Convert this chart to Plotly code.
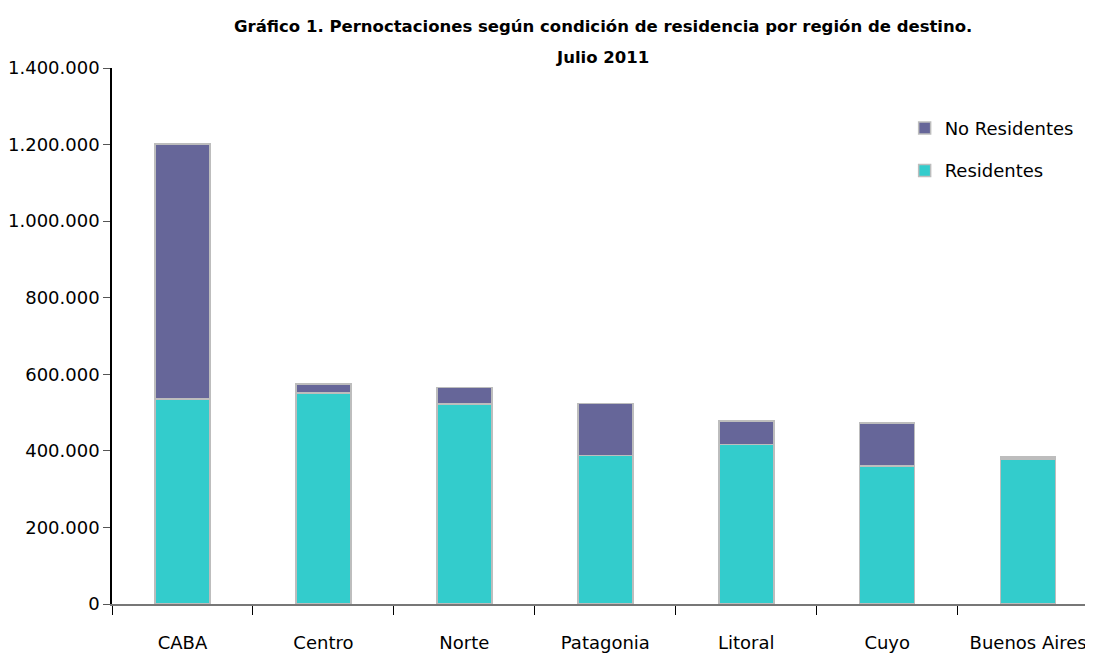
import plotly.graph_objects as go

regiones = ['CABA', 'Centro', 'Norte', 'Patagonia', 'Litoral', 'Cuyo', 'Buenos Aires']
residentes = [536000, 551000, 523000, 388000, 417000, 360000, 379000]
no_residentes = [666000, 24000, 42000, 136000, 61000, 113000, 5000]

font_main = "DejaVu Sans"

# la pagina agrega 8px de margen al body, por eso el figure es algo mas chico
W, H = 1085, 645
ML, MT, MB = 104, 60, 49

fig = go.Figure()
fig.add_trace(go.Bar(
    x=regiones, y=residentes, name='Residentes',
    legendgroup='res', legendrank=2,
    marker=dict(color='#33CCCC', line=dict(color='#BDBDBD', width=1.5))
))
fig.add_trace(go.Bar(
    x=regiones, y=no_residentes, name='No Residentes',
    legendgroup='nores', legendrank=1,
    marker=dict(color='#666699', line=dict(color='#BDBDBD', width=1.5))
))

fig.update_layout(
    width=W, height=H,
    barmode='stack', bargap=0.61,
    separators=',.',
    paper_bgcolor='white', plot_bgcolor='white',
    margin=dict(l=ML, r=0, t=MT, b=MB, autoexpand=False),
    font=dict(family=font_main, size=18, color='black'),
    showlegend=True,
    legend=dict(x=0.808, y=0.922, xanchor='left', yanchor='top',
                traceorder='grouped', tracegroupgap=16,
                font=dict(size=18), itemwidth=30, bgcolor='rgba(0,0,0,0)'),
)

# titulo en dos lineas, posicion en pixeles de la captura convertida a paper
plot_h = H - MT - MB
for txt, ypx in [('<b>Gráfico 1. Pernoctaciones según condición de residencia por región de destino.</b>', 27),
                 ('<b>Julio 2011</b>', 58)]:
    fig.add_annotation(text=txt, x=0.5, y=(H - MB + 8 - ypx) / plot_h,
                       xref='paper', yref='paper', yanchor='middle',
                       showarrow=False, font=dict(size=16.5))

fig.update_yaxes(range=[0, 1400000], dtick=200000, tickformat=',d',
                 showgrid=False, zeroline=False, automargin=False,
                 showline=True, linecolor='black', linewidth=1.5,
                 ticks='outside', ticklen=7, tickcolor='#555555',
                 tickfont=dict(size=18))
fig.update_xaxes(range=[-0.5, 6.46], showgrid=False, automargin=False,
                 showline=True, linecolor='#777777', linewidth=2,
                 ticks='outside', tickson='boundaries', ticklen=9,
                 tickcolor='black', ticklabelstandoff=21,
                 tickfont=dict(size=18))

fig.write_html("out.html")
